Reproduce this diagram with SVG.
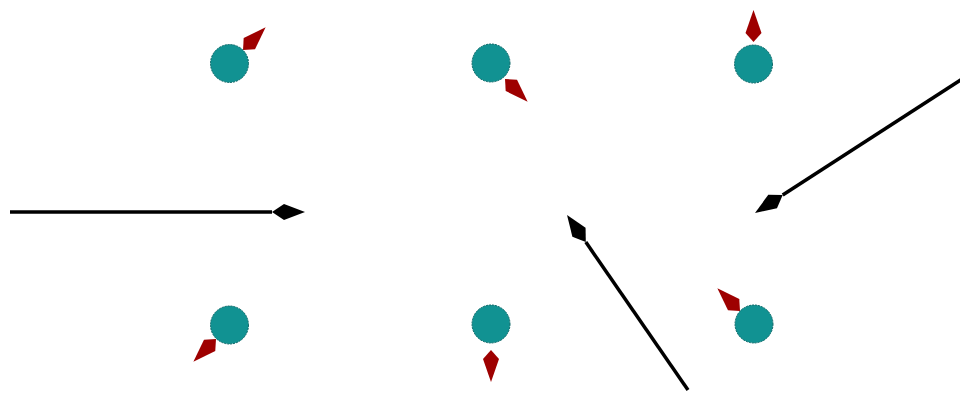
<svg xmlns="http://www.w3.org/2000/svg" xmlns:xlink="http://www.w3.org/1999/xlink" width="960" height="393" viewBox="0 0 960 393">
  <style>
    .ball { fill: #119292; stroke: #0b6666; stroke-width: 1; stroke-dasharray: 2 1; }
    .ptr { fill: #9e0000; }
    .arrow { stroke: #000; stroke-width: 3.5; fill: none; }
  </style>
  <defs>
    <path id="kite" class="ptr" d="M0,0 L9,-8 L32,0 L9,8 Z"/>
    <marker id="head" markerUnits="userSpaceOnUse" viewBox="-2 -12 40 24" refX="0" refY="0" markerWidth="40" markerHeight="24" orient="auto">
      <path d="M0,0 L12,-8 L33,0 L12,8 Z" fill="#000"/>
    </marker>
  </defs>
  <rect width="960" height="393" fill="#fff"/>
  <g id="connectors">
    <line class="arrow" x1="10" y1="212" x2="272" y2="212" marker-end="url(#head)"/>
    <line class="arrow" x1="962" y1="79" x2="782.7" y2="195" marker-end="url(#head)"/>
    <line class="arrow" x1="688" y1="390" x2="585.8" y2="242.1" marker-end="url(#head)"/>
  </g>
  <g id="node1">
    <circle class="ball" cx="229.5" cy="63.5" r="19"/>
    <use xlink:href="#kite" transform="translate(243,50) rotate(-45)"/>
  </g>
  <g id="node2">
    <circle class="ball" cx="491" cy="63" r="19"/>
    <use xlink:href="#kite" transform="translate(505,79) rotate(45)"/>
  </g>
  <g id="node3">
    <circle class="ball" cx="753.5" cy="64" r="19"/>
    <use xlink:href="#kite" transform="translate(753.5,42) rotate(-90)"/>
  </g>
  <g id="node4">
    <circle class="ball" cx="229.5" cy="325" r="19"/>
    <use xlink:href="#kite" transform="translate(216,339) rotate(135)"/>
  </g>
  <g id="node5">
    <circle class="ball" cx="491" cy="324" r="19"/>
    <use xlink:href="#kite" transform="translate(491,350) rotate(90)"/>
  </g>
  <g id="node6">
    <circle class="ball" cx="754" cy="324" r="19"/>
    <use xlink:href="#kite" transform="translate(740,311) rotate(-135)"/>
  </g>
</svg>
